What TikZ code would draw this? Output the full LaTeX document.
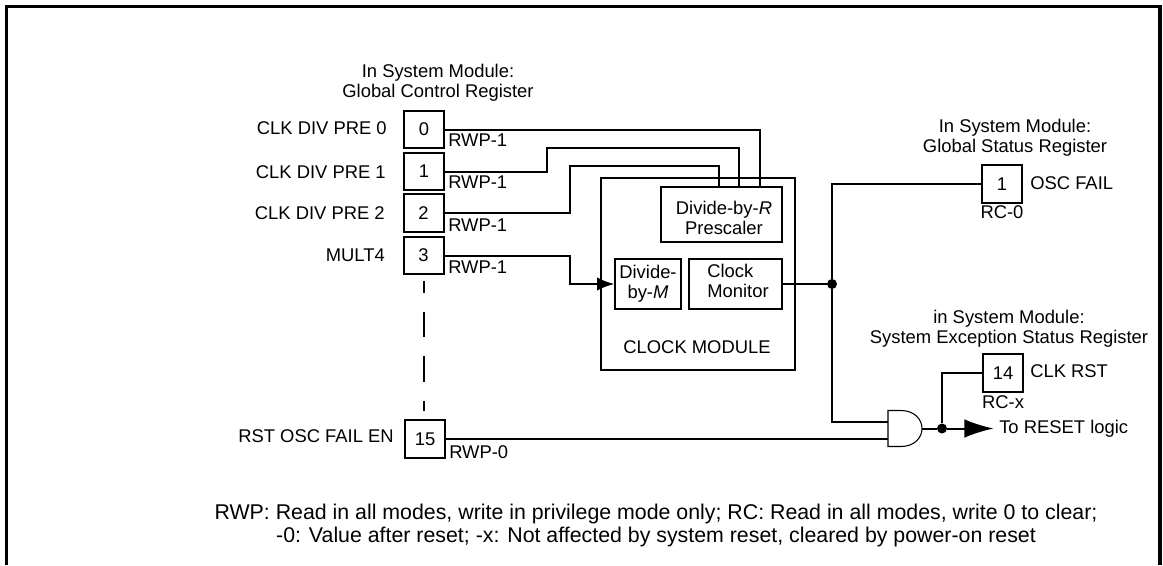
\documentclass[tikz,border=0pt]{standalone}
\usepackage{fontspec}
\setmainfont{Liberation Sans}
\usetikzlibrary{arrows.meta, positioning, calc}
\tikzset{
  wire/.style={line width=1.5pt},
  regbox/.style={draw, line width=1.5pt, minimum width=30pt, minimum height=28pt, inner sep=0pt},
  blockbox/.style={draw, line width=1.5pt, inner sep=0pt},
  lbl/.style={inner sep=0pt, align=center},
  jdot/.style={circle, fill=black, inner sep=0pt, minimum size=7.5pt}
}
\begin{document}
\begin{tikzpicture}[x=0.75pt, y=-0.75pt, font=\fontsize{13.8}{15}\selectfont]
\useasboundingbox (0,0) rectangle (1163,565);
\draw[line width=2.4pt] (6.5,565) -- (6.5,6.5) -- (1160,6.5) -- (1160,565);

% control register bits
\node[lbl] (ctrlhead) at (438,83) {In System Module:\\Global Control Register};
\node[regbox] (r0) at (424,129.5) {0};
\node[regbox] (r1) at (424,171.5) {1};
\node[regbox] (r2) at (423.5,213) {2};
\node[regbox] (r3) at (423.5,255.5) {3};
\node[regbox] (r15) at (425,439) {15};
\node[lbl, anchor=east] (n0) at (387,128) {CLK DIV PRE 0};
\node[lbl, anchor=east] (n1) at (386,172) {CLK DIV PRE 1};
\node[lbl, anchor=east] (n2) at (385,213) {CLK DIV PRE 2};
\node[lbl, anchor=east] (n3) at (385,255) {MULT4};
\node[lbl, anchor=east] (n15) at (394,436) {RST OSC FAIL EN};
\node[lbl, anchor=west] (a0) at (448,140) {RWP-1};
\node[lbl, anchor=west] (a1) at (448,182) {RWP-1};
\node[lbl, anchor=west] (a2) at (448,225) {RWP-1};
\node[lbl, anchor=west] (a3) at (448,267) {RWP-1};
\node[lbl, anchor=west] (a15) at (449,452) {RWP-0};
\draw[wire, dash pattern=on 9pt off 14.25pt on 18.75pt off 14.25pt on 19.5pt off 14.25pt on 8.25pt off 20pt, shorten <=4pt, shorten >=6pt] (r3.south) -- (r3.south |- r15.north);

% clock module
\node[blockbox, minimum width=145pt, minimum height=144pt] (clkmod) at (698,274) {};
\node[lbl] (clkname) at (697,347) {CLOCK MODULE};
\node[blockbox, minimum width=91pt, minimum height=41pt] (presc) at (721.5,214.5) {};
\node[lbl] (presct) at (724,218) {Divide-by-\textit{R}\\Prescaler};
\node[blockbox, minimum width=49pt, minimum height=38pt, align=center] (divm) at (648,284) {Divide-\\by-\textit{M}};
\node[blockbox, minimum width=70pt, minimum height=38pt] (mon) at (735.5,284) {};
\node[lbl, align=left] (mont) at (738,281) {Clock\\Monitor};
\coordinate (wa) at ($(presc.north west)+(100,0)$);
\coordinate (wb) at ($(presc.north west)+(79,0)$);
\coordinate (wc) at ($(presc.north west)+(59,0)$);
\coordinate (tb) at (547,147.5);
\coordinate (tc) at (570,166);
\draw[wire] (r0.east) -- (wa |- r0.east) -- (wa);
\draw[wire] (r1.east) -| (tb) -| (wb);
\draw[wire] (r2.east) -| (tc) -| (wc);
\draw[wire, -{Latex[length=13pt, width=10pt]}] (r3.east) -- (r3.east -| tc) |- (divm.west);

% status bits
\node[lbl] (stathead) at (1015,137.5) {In System Module:\\Global Status Register};
\node[regbox] (s1) at (1002,184) {1};
\node[lbl, anchor=west] (s1n) at (1030,183) {OSC FAIL};
\node[lbl] (s1a) at (1002,212) {RC-0};
\node[lbl] (exchead) at (1009,329) {in System Module:\\System Exception Status Register};
\node[regbox] (s14) at (1003,373) {14};
\node[lbl, anchor=west] (s14n) at (1030,371) {CLK RST};
\node[lbl] (s14a) at (1003,402) {RC-x};

% reset path
\node[jdot] (jmon) at (832,284) {};
\node[minimum width=25.5pt, minimum height=27pt, inner sep=0pt, outer sep=0pt] (andg) at (905,428.5) {};
\draw[line width=0.8pt] (andg.north west) -- ++(13,0) .. controls (914,410.5) and (922,419) .. (andg.east) .. controls (922,438) and (914,446.5) .. (901,446.5) -- (andg.south west) -- cycle;
\coordinate (andin1) at ($(andg.west)+(0,-7)$);
\coordinate (andin2) at (andg.west |- r15.east);
\node[jdot] (jrst) at (942,428.5) {};
\node[lbl, anchor=west] (rstout) at (999,428.5) {To RESET logic};
\draw[wire] (mon.east) -- (jmon);
\draw[wire] (jmon) |- (s1.west);
\draw[wire] (jmon) |- (andin1);
\draw[wire] (r15.east) -- (andin2);
\draw[wire] (andg.east) -- (jrst);
\draw[wire] (jrst) |- (s14.west);
\draw[wire, -{Latex[length=22pt, width=14pt]}, shorten >=4pt] (jrst) -- (rstout.west);

\node[lbl, font=\fontsize{16}{17.25}\selectfont] (note) at (656,525.5) {RWP: Read in all modes, write in privilege mode only; RC: Read in all modes, write 0 to clear;\\-0: Value after reset; -x: Not affected by system reset, cleared by power-on reset};
\end{tikzpicture}
\end{document}
